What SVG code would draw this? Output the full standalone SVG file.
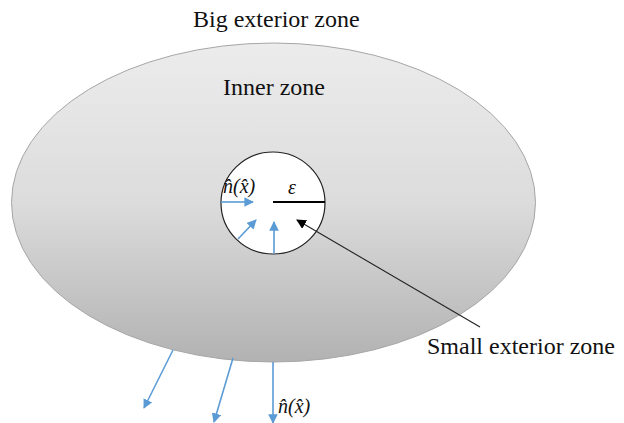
<svg xmlns="http://www.w3.org/2000/svg" width="624" height="423" viewBox="0 0 624 423">
<defs>
<linearGradient id="g" x1="0" y1="0" x2="0" y2="1">
<stop offset="0" stop-color="#ececec"/>
<stop offset="0.5" stop-color="#dcdcdc"/>
<stop offset="1" stop-color="#b2b2b2"/>
</linearGradient>
<marker id="blue" viewBox="0 0 10 10" refX="9" refY="5" markerWidth="6" markerHeight="6" orient="auto" markerUnits="strokeWidth">
<path d="M0,0 L10,5 L0,10 z" fill="#5b9bd5"/>
</marker>
<marker id="blk" viewBox="0 0 10 10" refX="9" refY="5" markerWidth="9" markerHeight="9" orient="auto" markerUnits="strokeWidth">
<path d="M0,0 L10,5 L0,10 z" fill="#000"/>
</marker>
</defs>
<style>
.t{font-family:'Liberation Serif','Tinos','DejaVu Serif',serif;font-size:24px;fill:#111}
.m{font-family:'Liberation Serif','DejaVu Serif',serif;font-style:italic;font-size:20px;fill:#111}
.b{stroke:#5b9bd5;stroke-width:1.6;fill:none;marker-end:url(#blue)}
</style>
<rect width="624" height="423" fill="#fff"/>
<g id="big-exterior">
<text class="t" font-family="Liberation Serif, serif" x="193" y="27">Big exterior zone</text>
</g>
<g id="inner-zone">
<ellipse cx="273.5" cy="202.5" rx="262" ry="159.5" fill="url(#g)" stroke="#a6a6a6" stroke-width="1"/>
<text class="t" font-family="Liberation Serif, serif" x="223" y="95">Inner zone</text>
</g>
<g id="small-exterior">
<ellipse cx="273" cy="203" rx="52" ry="51" fill="#fff" stroke="#222" stroke-width="1.2"/>
<line x1="273" y1="202" x2="325" y2="202" stroke="#000" stroke-width="2"/>
<text class="m" font-family="Liberation Serif, serif" x="288" y="194" font-size="22">ε</text>
<text class="m" font-family="Liberation Serif, serif" x="223" y="193">n̂(x̂)</text>
<text class="t" font-family="Liberation Serif, serif" x="427" y="354">Small exterior zone</text>
</g>
<g id="connectors">
<line class="b" x1="221" y1="202" x2="253" y2="202"/>
<line class="b" x1="238" y1="239" x2="256" y2="220"/>
<line class="b" x1="274" y1="254" x2="274" y2="222"/>
<line x1="480" y1="327" x2="297" y2="220" stroke="#222" stroke-width="1.1" marker-end="url(#blk)"/>
<line class="b" x1="173" y1="350" x2="144" y2="408"/>
<line class="b" x1="233" y1="358" x2="214" y2="422"/>
<line class="b" x1="273" y1="362" x2="273" y2="423"/>
</g>
<g id="normal-label">
<text class="m" font-family="Liberation Serif, serif" x="278" y="413">n̂(x̂)</text>
</g>
</svg>
